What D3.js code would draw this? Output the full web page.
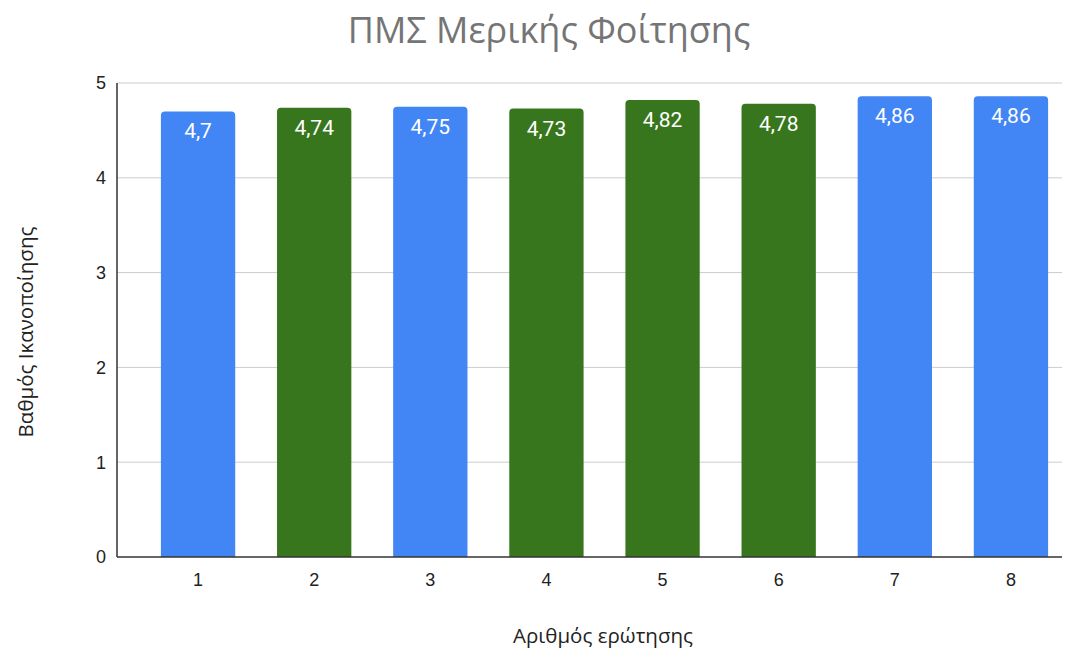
<!DOCTYPE html>
<html><head><meta charset="utf-8">
<script src="https://cdn.jsdelivr.net/npm/d3@7"></script>
<style>body{margin:0;background:#fff;}svg{display:block;font-family:"Liberation Sans",Arial,sans-serif;}</style>
</head><body>
<svg id="c" width="1079" height="652"></svg>
<script>
const categories = ["1","2","3","4","5","6","7","8"];
const values = [4.7, 4.74, 4.75, 4.73, 4.82, 4.78, 4.86, 4.86];
const valueLabels = ["4,7","4,74","4,75","4,73","4,82","4,78","4,86","4,86"];
const barColors = ["#4285f4","#38761d","#4285f4","#38761d","#38761d","#38761d","#4285f4","#4285f4"];
const yTicks = [0,1,2,3,4,5];
const title = "ΠΜΣ Μερικής Φοίτησης";
const xTitle = "Αριθμός ερώτησης";
const yTitle = "Βαθμός Ικανοποίησης";

const svg = d3.select("#c");
const plotL = 117, plotR = 1062, plotT = 83, plotB = 557;
const x = d3.scaleBand().domain(categories).range([140, 1069]).paddingInner(0.36).paddingOuter(0.18);
const y = d3.scaleLinear().domain([0,5]).range([plotB, plotT]);

svg.append("g").selectAll("line").data(yTicks.filter(d=>d>0)).join("line")
  .attr("x1", plotL).attr("x2", plotR)
  .attr("y1", d=>y(d)).attr("y2", d=>y(d))
  .attr("stroke", "#cccccc").attr("stroke-width", 1);

svg.append("g").selectAll("text").data(yTicks).join("text")
  .attr("x", 106).attr("y", d=>y(d)).attr("dy","0.35em")
  .attr("text-anchor","end").attr("font-size", 18).attr("fill","#222")
  .text(d=>d);

const r = 4;
function barPath(x0, w, yTop, yBot){
  return `M${x0},${yBot}V${yTop+r}Q${x0},${yTop} ${x0+r},${yTop}H${x0+w-r}Q${x0+w},${yTop} ${x0+w},${yTop+r}V${yBot}Z`;
}
svg.append("g").selectAll("path").data(values).join("path")
  .attr("d", (d,i)=>barPath(x(categories[i]), x.bandwidth(), y(d), y(0)))
  .attr("fill", (d,i)=>barColors[i]);

svg.append("g").selectAll("text").data(values).join("text")
  .attr("x", (d,i)=>x(categories[i]) + x.bandwidth()/2)
  .attr("y", d=>y(d) + 27)
  .attr("text-anchor","middle").attr("font-size", 21).attr("fill","#fff")
  .attr("font-family","Roboto, sans-serif")
  .text((d,i)=>valueLabels[i]);

svg.append("line").attr("x1", plotL).attr("x2", plotL).attr("y1", plotT).attr("y2", plotB)
  .attr("stroke","#333").attr("stroke-width",1.5);
svg.append("line").attr("x1", plotL).attr("x2", plotR).attr("y1", plotB).attr("y2", plotB)
  .attr("stroke","#333").attr("stroke-width",1.5);

svg.append("g").selectAll("text").data(categories).join("text")
  .attr("x", d=>x(d)+x.bandwidth()/2).attr("y", 586)
  .attr("text-anchor","middle").attr("font-size", 18).attr("fill","#222")
  .text(d=>d);

svg.append("text").attr("x", 549).attr("y", 43).attr("text-anchor","middle")
  .attr("font-family","'Open Sans', sans-serif")
  .attr("font-size", 36).attr("fill","#757575").text(title);
svg.append("text").attr("x", 603).attr("y", 643).attr("text-anchor","middle")
  .attr("font-family","'Open Sans', sans-serif")
  .attr("font-size", 20.5).attr("fill","#222").text(xTitle);
svg.append("text").attr("transform","translate(33,332) rotate(-90)").attr("text-anchor","middle")
  .attr("font-family","'Open Sans', sans-serif")
  .attr("font-size", 20.5).attr("fill","#222").text(yTitle);
</script>
</body></html>
